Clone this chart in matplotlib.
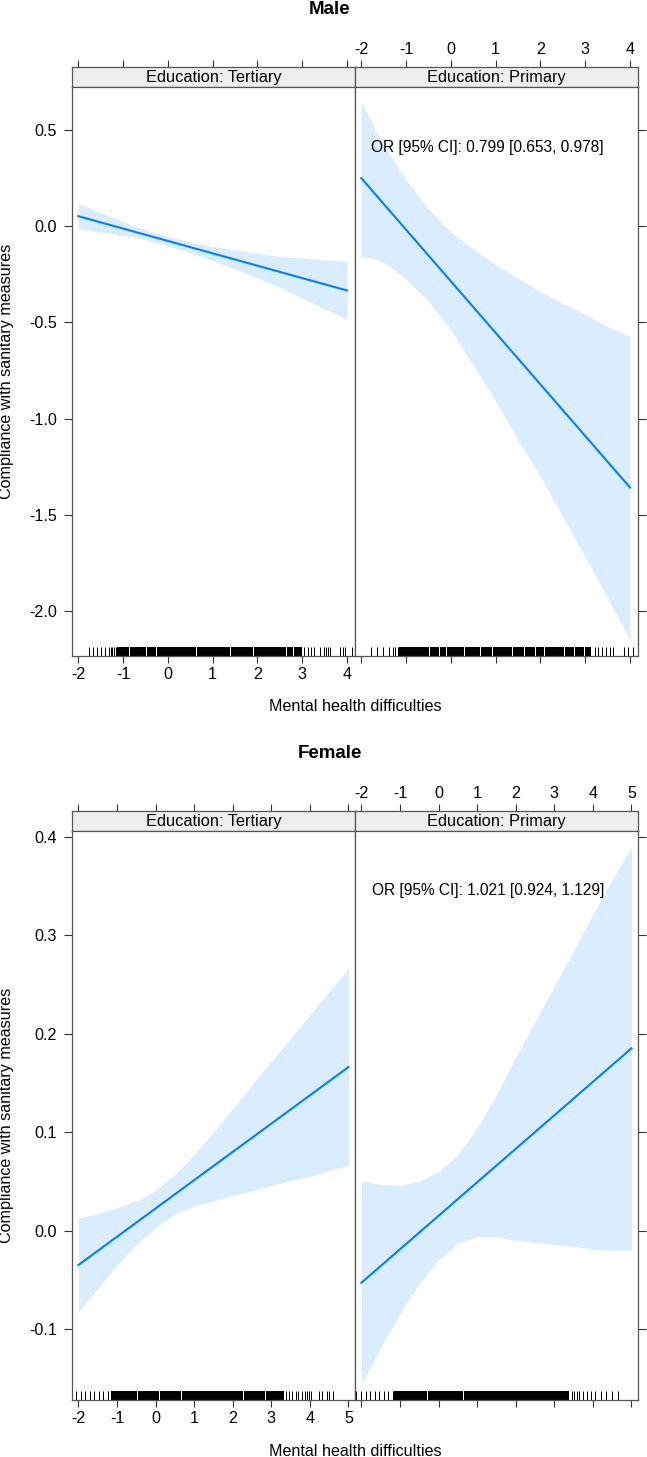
import matplotlib.pyplot as plt

plt.rcParams['font.family'] = ['Liberation Sans', 'DejaVu Sans']
plt.rcParams['axes.unicode_minus'] = False

# ---- data ----
panels = ['Education: Tertiary', 'Education: Primary']

# Male: fitted line ends and confidence band
m_ter_line_x = [-2, 4]
m_ter_line_y = [0.052, -0.334]
m_ter_x = [-2, -1.5, -1, -0.5, 0, 0.5, 1, 1.5, 2, 2.5, 3, 3.5, 4]
m_ter_lo = [-0.015, -0.030, -0.047, -0.071, -0.101, -0.137, -0.178, -0.223, -0.269, -0.318, -0.375, -0.429, -0.484]
m_ter_hi = [0.119, 0.070, 0.023, -0.019, -0.053, -0.081, -0.104, -0.123, -0.141, -0.158, -0.165, -0.175, -0.184]

m_pri_line_x = [-2, 4]
m_pri_line_y = [0.250, -1.358]
m_pri_x = [-2, -1.75, -1.5, -1.25, -1, -0.5, 0, 0.5, 1, 1.5, 2, 2.5, 3, 3.5, 4]
m_pri_lo = [-0.160, -0.165, -0.190, -0.230, -0.275, -0.390, -0.540, -0.720, -0.910, -1.110, -1.300, -1.510, -1.720, -1.930, -2.150]
m_pri_hi = [0.650, 0.530, 0.420, 0.330, 0.240, 0.090, -0.030, -0.120, -0.200, -0.270, -0.340, -0.400, -0.460, -0.520, -0.575]

# Female
f_ter_line_x = [-2, 5]
f_ter_line_y = [-0.035, 0.166]
f_ter_x = [-2, -1.5, -1, -0.5, 0, 0.5, 1, 1.5, 2, 2.5, 3, 3.5, 4, 4.5, 5]
f_ter_lo = [-0.083, -0.059, -0.035, -0.014, 0.003, 0.017, 0.025, 0.030, 0.036, 0.040, 0.046, 0.051, 0.055, 0.061, 0.066]
f_ter_hi = [0.013, 0.017, 0.023, 0.030, 0.041, 0.057, 0.077, 0.100, 0.124, 0.148, 0.172, 0.195, 0.219, 0.243, 0.266]

f_pri_line_x = [-2, 5]
f_pri_line_y = [-0.053, 0.185]
f_pri_x = [-2, -1.5, -1, -0.5, 0, 0.5, 1, 1.5, 2, 2.5, 3, 3.5, 4, 4.5, 5]
f_pri_lo = [-0.156, -0.119, -0.084, -0.054, -0.030, -0.013, -0.006, -0.006, -0.010, -0.012, -0.014, -0.016, -0.019, -0.020, -0.020]
f_pri_hi = [0.050, 0.047, 0.046, 0.050, 0.060, 0.077, 0.104, 0.138, 0.176, 0.212, 0.248, 0.284, 0.321, 0.356, 0.390]

or_text = ['OR [95% CI]: 0.799 [0.653, 0.978]', 'OR [95% CI]: 1.021 [0.924, 1.129]']
or_pos = [(-1.78, 0.41), (-1.73, 0.345)]

# rug: single lines and dense blocks (start, end)
m_ter_rug = [-1.77, -1.68, -1.58, -1.49, -1.40, -1.32, -1.28, -1.24, -1.20, -1.16,
             3.05, 3.12, 3.20, 3.27, 3.40, 3.48, 3.53, 3.57, 3.62, 3.85, 3.92, 3.96, 4.11]
m_ter_blocks = [(-1.13, -0.86), (-0.84, -0.48), (-0.46, -0.27), (-0.25, 0.33), (0.35, 0.64),
                (0.66, 1.38), (1.40, 1.90), (1.92, 2.16), (2.18, 2.65), (2.67, 2.80), (2.82, 2.99)]
m_pri_rug = [-1.78, -1.64, -1.52, -1.37, -1.29, -1.24, -1.19,
             3.22, 3.29, 3.38, 3.47, 3.55, 3.63, 3.87, 3.96, 4.07]
m_pri_blocks = [(-1.16, -0.48), (-0.46, -0.27), (-0.25, -0.11), (-0.09, 0.29), (0.31, 0.66),
                (0.68, 0.93), (0.95, 1.37), (1.39, 1.63), (1.65, 1.89), (1.91, 2.08),
                (2.10, 2.52), (2.54, 2.75), (2.77, 2.97), (2.99, 3.13)]
f_ter_rug = [-2.05, -1.93, -1.82, -1.70, -1.59, -1.47, -1.36, -1.24,
             3.37, 3.46, 3.54, 3.63, 3.70, 3.80, 3.87, 3.93, 3.99, 4.04, 4.23, 4.32, 4.45, 4.49, 4.61]
f_ter_blocks = [(-1.16, -0.48), (-0.46, 0.09), (0.11, 0.67), (0.69, 1.87), (1.89, 2.28),
                (2.30, 2.84), (2.86, 3.32)]
f_pri_rug = [-2.13, -2.0, -1.89, -1.77, -1.65, -1.54, -1.42, -1.31, -1.19,
             3.45, 3.52, 3.58, 3.65, 3.75, 3.85, 3.95, 4.05, 4.2, 4.35, 4.5, 4.65]
f_pri_blocks = [(-1.16, -0.49), (-0.47, -0.29), (-0.27, 0.08), (0.10, 0.64), (0.66, 3.39)]

m_xticks = [-2, -1, 0, 1, 2, 3, 4]
f_xticks = [-2, -1, 0, 1, 2, 3, 4, 5]
m_yticks = [-2.0, -1.5, -1.0, -0.5, 0.0, 0.5]
f_yticks = [-0.1, 0.0, 0.1, 0.2, 0.3, 0.4]

blocks = [
    dict(title='Male', dy=0, xlim=(-2.14, 4.18), ylim=(-2.234, 0.725),
         xticks=m_xticks, yticks=m_yticks, orlab=or_text[0], orpos=or_pos[0],
         curves=[(m_ter_line_x, m_ter_line_y, m_ter_x, m_ter_lo, m_ter_hi, m_ter_rug, m_ter_blocks),
                 (m_pri_line_x, m_pri_line_y, m_pri_x, m_pri_lo, m_pri_hi, m_pri_rug, m_pri_blocks)]),
    dict(title='Female', dy=744, xlim=(-2.165, 5.17), ylim=(-0.172, 0.406),
         xticks=f_xticks, yticks=f_yticks, orlab=or_text[1], orpos=or_pos[1],
         curves=[(f_ter_line_x, f_ter_line_y, f_ter_x, f_ter_lo, f_ter_hi, f_ter_rug, f_ter_blocks),
                 (f_pri_line_x, f_pri_line_y, f_pri_x, f_pri_lo, f_pri_hi, f_pri_rug, f_pri_blocks)]),
]

W, H = 647, 1457
fig = plt.figure(figsize=(W / 100, H / 100), dpi=100)

line_col = '#0080FF'
band_col = '#DAECFF'
frame_col = '#555555'
fs = 11.6


def px_axes(x0, y0, x1, y1):
    return fig.add_axes([x0 / W, 1 - y1 / H, (x1 - x0) / W, (y1 - y0) / H])


xs = [(72, 355), (355, 638)]
for b in blocks:
    dy = b['dy']
    fig.text(330 / W, 1 - (10 + dy) / H, b['title'], ha='center', va='center',
             fontsize=13.5, fontweight='bold')
    fig.text(7 / W, 1 - (371 + dy) / H, 'Compliance with sanitary measures',
             rotation=90, ha='center', va='center', fontsize=fs)
    fig.text(355 / W, 1 - (707 + dy) / H, 'Mental health difficulties',
             ha='center', va='center', fontsize=fs)
    for i, (x0, x1) in enumerate(xs):
        # strip with the top axis ticks
        st = px_axes(x0, 66.7 + dy, x1, 86.7 + dy)
        st.set_facecolor('#EFEFEF')
        st.set_xlim(b['xlim'])
        st.set_yticks([])
        st.xaxis.set_ticks_position('top')
        st.set_xticks(b['xticks'])
        st.tick_params(axis='x', direction='out', length=5, width=0.8, color='#333333',
                       labelsize=fs, pad=2, labeltop=(i == 1))
        for s in st.spines.values():
            s.set_color(frame_col)
            s.set_linewidth(0.9)
        st.text(0.5, 0.45, panels[i], transform=st.transAxes, ha='center', va='center',
                fontsize=11.8)

        # panel
        ax = px_axes(x0, 86.7 + dy, x1, 656 + dy)
        lx, ly, x, lo, hi, rug, blk = b['curves'][i]
        ax.fill_between(x, lo, hi, color=band_col, lw=0)
        ax.plot(lx, ly, color=line_col, lw=1.5)
        rh = 9.5 / 569.3
        ax.vlines(rug, 0, rh, transform=ax.get_xaxis_transform(), color='black', lw=0.7)
        for a, c in blk:
            ax.axvspan(a, c, ymin=0, ymax=rh, color='black', lw=0)
        ax.set_xlim(b['xlim'])
        ax.set_ylim(b['ylim'])
        ax.set_xticks(b['xticks'])
        ax.set_yticks(b['yticks'])
        ax.set_yticklabels(['%.1f' % v for v in b['yticks']])
        for s in ax.spines.values():
            s.set_color(frame_col)
            s.set_linewidth(0.9)
        if i == 0:
            ax.tick_params(axis='x', direction='out', length=5, width=0.8, color='#333333',
                           labelsize=fs, pad=3, top=False)
            ax.tick_params(axis='y', direction='out', length=6, width=0.8, color='#333333',
                           labelsize=fs, pad=5, right=False)
        else:
            ax.tick_params(axis='x', direction='out', length=5, width=0.8, color='#333333',
                           labelbottom=False, top=False)
            ax.tick_params(axis='y', direction='out', length=6, width=0.8, color='#333333',
                           left=False, labelleft=False, right=True)
            ax.text(b['orpos'][0], b['orpos'][1], b['orlab'], ha='left', va='center',
                    fontsize=11.2)

fig.savefig('out.png', dpi=100)
